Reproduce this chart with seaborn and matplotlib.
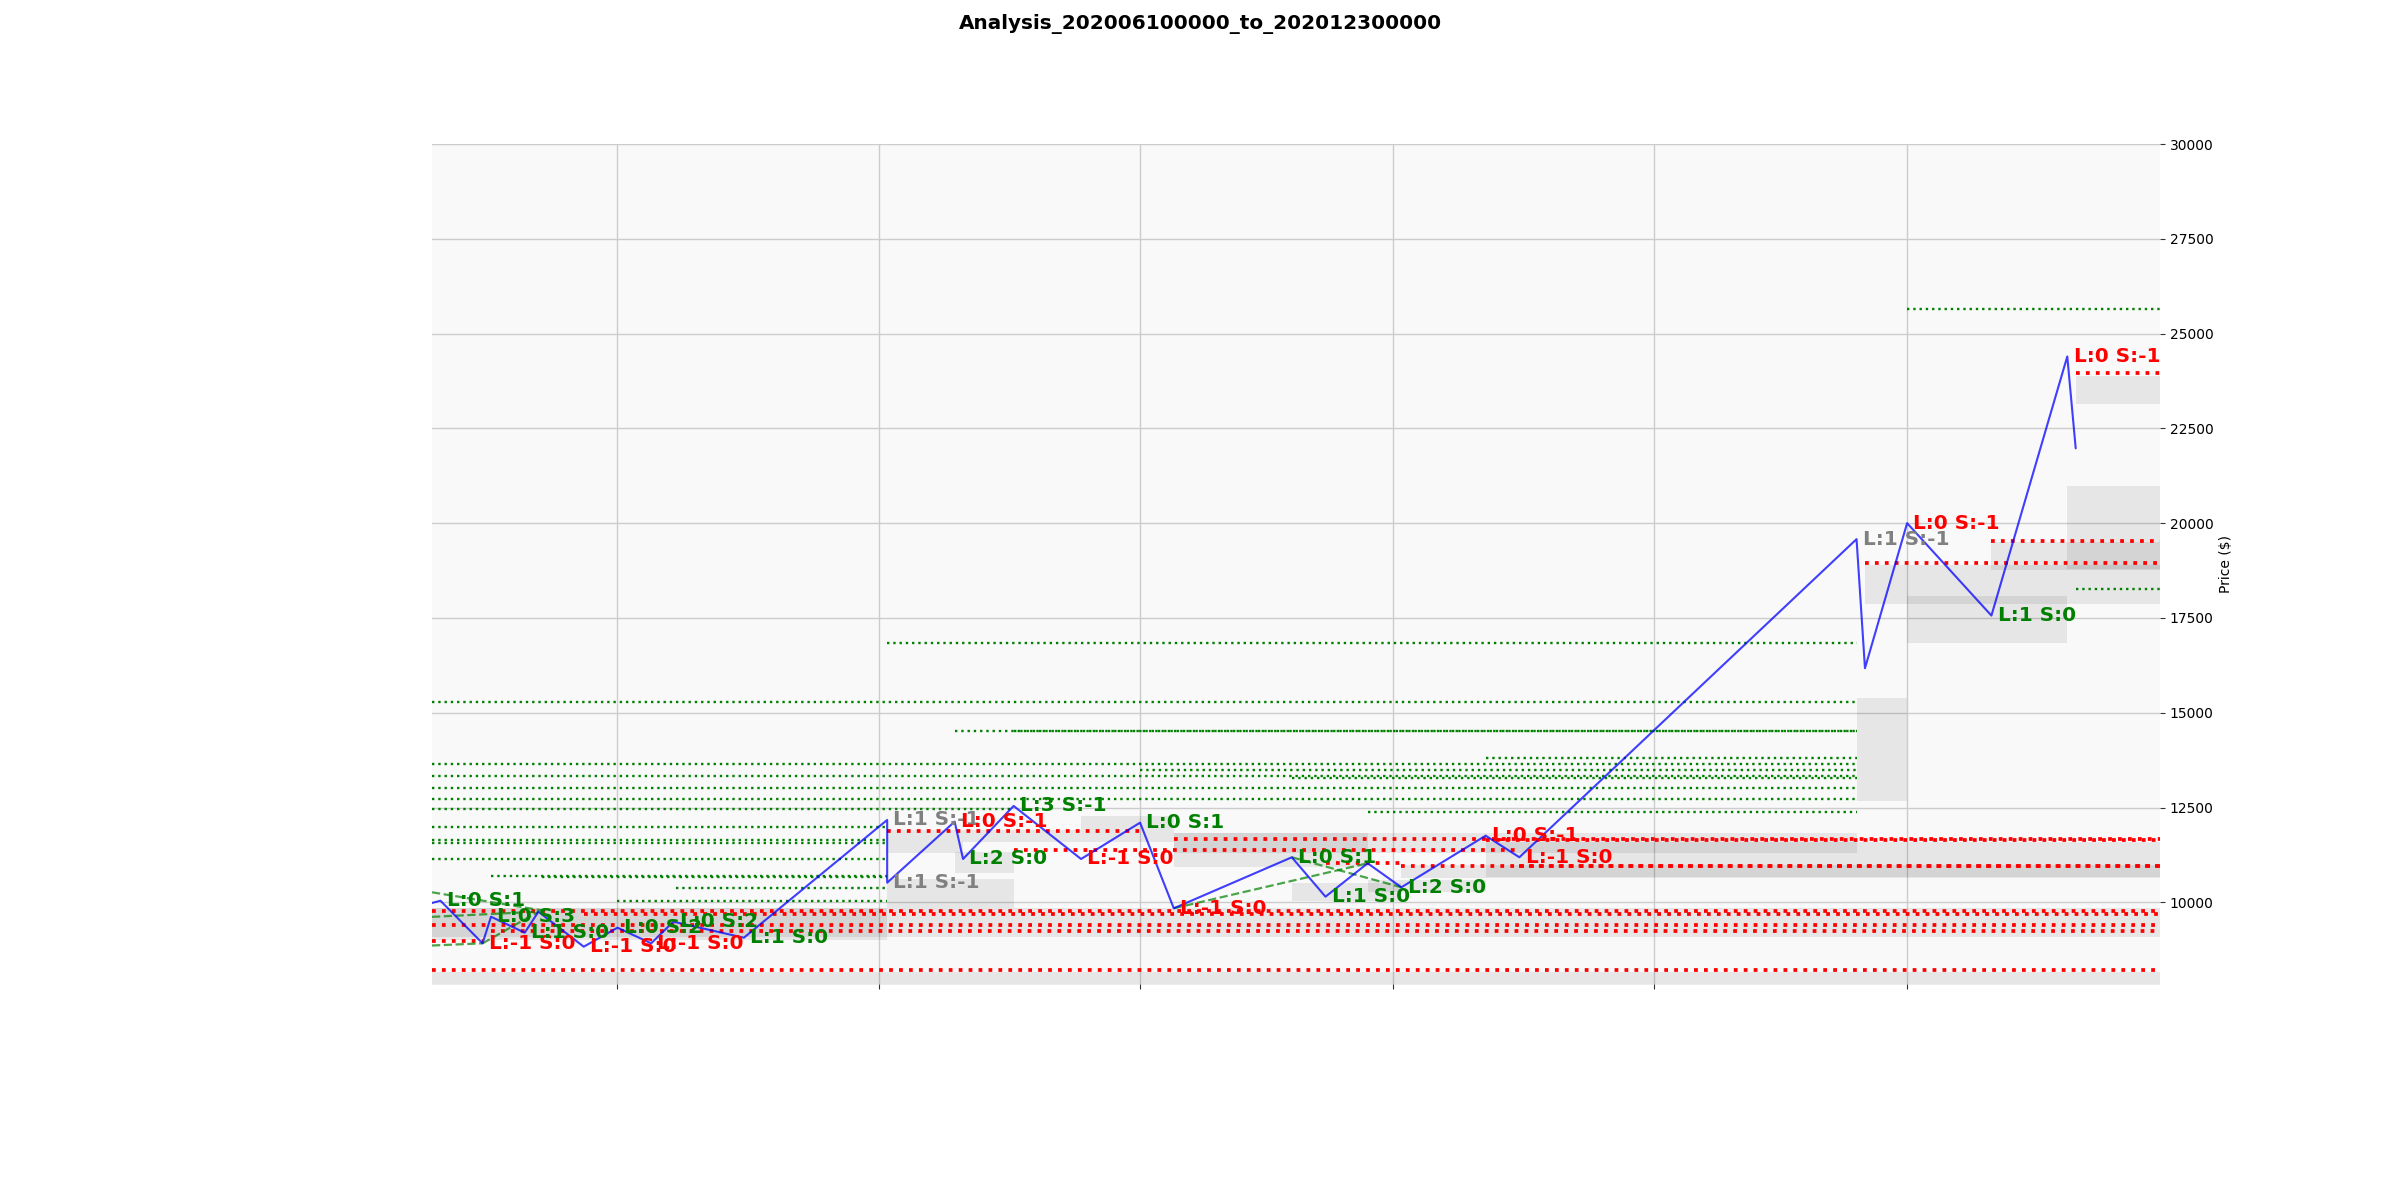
import re
import numpy as np
import pandas as pd
import matplotlib
matplotlib.use("Agg")
import matplotlib.pyplot as plt
import matplotlib.dates as mdates
import seaborn as sns

TITLE = "Analysis_202006100000_to_202012300000"
X_RANGE = ["2020-06-09", "2020-12-31"]
Y_RANGE = [7845, 30000]
Y_TICKS = [10000, 12500, 15000, 17500, 20000, 22500, 25000, 27500, 30000]

# zig-zag price path
price_dates = ["2020-06-09", "2020-06-10", "2020-06-15", "2020-06-16", "2020-06-20",
               "2020-06-21 15:00", "2020-06-27", "2020-07-01", "2020-07-05",
               "2020-07-07 15:00", "2020-07-16", "2020-08-02", "2020-08-02",
               "2020-08-10", "2020-08-11", "2020-08-17", "2020-08-25", "2020-09-01",
               "2020-09-05", "2020-09-19", "2020-09-23", "2020-09-28", "2020-10-02",
               "2020-10-12", "2020-10-16", "2020-11-25", "2020-11-26", "2020-12-01",
               "2020-12-11", "2020-12-20", "2020-12-21"]
price_values = [9982, 10042, 8918, 9620, 9198, 9752, 8829, 9330, 8918, 9488, 9066,
                12172, 10517, 12127, 11142, 12541, 11142, 12100, 9842, 11187, 10148,
                11029, 10396, 11757, 11187, 19578, 16174, 20000, 17562, 24396, 21973]

# support levels (green): start, end, price
green_start = ["2020-12-01", "2020-12-21", "2020-08-02", "2020-06-09", "2020-08-10",
               "2020-08-17", "2020-10-12", "2020-06-09", "2020-09-01", "2020-06-09",
               "2020-09-19", "2020-06-09", "2020-06-09", "2020-06-09", "2020-09-28",
               "2020-06-09", "2020-06-09", "2020-06-09", "2020-06-09", "2020-06-16",
               "2020-06-22", "2020-07-08", "2020-07-01"]
green_end = ["2020-12-31", "2020-12-31", "2020-11-25", "2020-11-25", "2020-11-25",
             "2020-11-25", "2020-11-25", "2020-11-25", "2020-11-25", "2020-11-25",
             "2020-11-25", "2020-11-25", "2020-11-25", "2020-08-17", "2020-11-25",
             "2020-08-02", "2020-08-02", "2020-08-02", "2020-08-02", "2020-08-02",
             "2020-08-02", "2020-08-02", "2020-08-02"]
green_price = [25657, 18258, 16850, 15293, 14528, 14505, 13799, 13649, 13491, 13340,
               13272, 13008, 12718, 12454, 12390, 11995, 11644, 11573, 11142, 10694,
               10680, 10369, 10042]

# resistance levels (red)
red_start = ["2020-12-21", "2020-12-11", "2020-11-26", "2020-08-02", "2020-09-05",
             "2020-10-12", "2020-08-17", "2020-09-23", "2020-10-02", "2020-10-16",
             "2020-06-09", "2020-06-27", "2020-06-09", "2020-06-16", "2020-06-09",
             "2020-06-09"]
red_end = ["2020-12-31", "2020-12-31", "2020-12-31", "2020-09-01", "2020-12-31",
           "2020-12-31", "2020-10-16", "2020-10-02", "2020-12-31", "2020-12-31",
           "2020-12-31", "2020-12-31", "2020-12-31", "2020-12-31", "2020-06-15",
           "2020-12-31"]
red_price = [23958, 19541, 18961, 11889, 11662, 11645, 11367, 11029, 10968, 10945,
             9770, 9700, 9401, 9251, 8992, 8222]

# shaded zones
zone_start = ["2020-11-25", "2020-11-26", "2020-12-01", "2020-12-11", "2020-12-20",
              "2020-12-21", "2020-08-02", "2020-08-02", "2020-08-11", "2020-08-10",
              "2020-08-25", "2020-09-05", "2020-09-05", "2020-09-19", "2020-09-28",
              "2020-10-02", "2020-10-12", "2020-06-09", "2020-06-09", "2020-06-09"]
zone_end = ["2020-12-01", "2020-12-31", "2020-12-20", "2020-12-31", "2020-12-31",
            "2020-12-31", "2020-08-17", "2020-08-11", "2020-09-05", "2020-08-17",
            "2020-09-05", "2020-09-28", "2020-11-25", "2020-10-02", "2020-10-12",
            "2020-12-31", "2020-12-31", "2020-12-31", "2020-08-02", "2020-12-31"]
zone_low = [12681, 17863, 16850, 18768, 18786, 23140, 9850, 11309, 11599, 10781,
            11908, 10939, 11309, 10042, 10280, 10641, 10661, 9087, 9005, 7600]
zone_high = [15391, 18900, 18082, 19514, 20984, 23877, 10615, 11908, 11908, 11335,
             12277, 11820, 11820, 10517, 10588, 10984, 11599, 9842, 9842, 8170]

# dashed trend lines
trend_start = ["2020-06-09", "2020-06-09", "2020-06-09", "2020-06-15",
               "2020-09-05", "2020-09-19"]
trend_start_price = [8860, 9616, 10264, 8918, 9842, 11187]
trend_end = ["2020-06-15", "2020-06-21 15:00", "2020-06-22 12:00", "2020-06-21 15:00",
             "2020-09-28", "2020-10-02"]
trend_end_price = [8918, 9752, 9770, 9752, 11029, 10396]

# pivot labels
label_dates = ["2020-06-10", "2020-06-15", "2020-06-16", "2020-06-20", "2020-06-27",
               "2020-07-01", "2020-07-05", "2020-07-07 15:00", "2020-07-16",
               "2020-08-02", "2020-08-02", "2020-08-10", "2020-08-11", "2020-08-17",
               "2020-08-25", "2020-09-01", "2020-09-05", "2020-09-19", "2020-09-23",
               "2020-10-02", "2020-10-12", "2020-10-16", "2020-11-25", "2020-12-01",
               "2020-12-11", "2020-12-20"]
label_prices = [10042, 8918, 9620, 9198, 8829, 9330, 8918, 9488, 9066, 12172, 10517,
                12127, 11142, 12541, 11142, 12100, 9842, 11187, 10148, 10396, 11757,
                11187, 19578, 20000, 17562, 24396]
label_texts = ["L:0 S:1", "L:-1 S:0", "L:0 S:3", "L:1 S:0", "L:-1 S:0", "L:0 S:2",
               "L:-1 S:0", "L:0 S:2", "L:1 S:0", "L:1 S:-1", "L:1 S:-1", "L:0 S:-1",
               "L:2 S:0", "L:3 S:-1", "L:-1 S:0", "L:0 S:1", "L:-1 S:0", "L:0 S:1",
               "L:1 S:0", "L:2 S:0", "L:0 S:-1", "L:-1 S:0", "L:1 S:-1", "L:0 S:-1",
               "L:1 S:0", "L:0 S:-1"]

sns.set_style("whitegrid")
plt.rcParams["font.family"] = ["DejaVu Sans"]

fig = plt.figure(figsize=(24, 12), dpi=100)
ax = fig.add_axes([0.18, 0.18, 0.72, 0.70])
ax.set_facecolor("#f9f9f9")


def D(x):
    return pd.to_datetime(x, format="mixed")


for s, e, lo, hi in zip(zone_start, zone_end, zone_low, zone_high):
    ax.fill_between(D([s, e]), lo, hi, color="black", alpha=0.076, lw=0, zorder=1)

ax.hlines(green_price, D(green_start), D(green_end), colors="green",
          linestyles=":", lw=1.7, zorder=2)
ax.hlines(red_price, D(red_start), D(red_end), colors="red",
          linestyles=":", lw=2.7, zorder=2)

for s, sp, e, ep in zip(trend_start, trend_start_price, trend_end, trend_end_price):
    ax.plot(D([s, e]), [sp, ep], color="green", ls="--", lw=1.6, alpha=0.7, zorder=3)

df = pd.DataFrame({"date": D(price_dates), "price": price_values})
sns.lineplot(data=df, x="date", y="price", sort=False, estimator=None,
             color="blue", alpha=0.75, lw=1.5, ax=ax, zorder=4)


def label_color(t):
    l, s = map(int, re.findall(r"-?\d+", t))
    v = l + s
    return "green" if v > 0 else ("red" if v < 0 else "gray")


for d, p, t in zip(label_dates, label_prices, label_texts):
    ax.annotate(t, xy=(D(d), p), xytext=(4.5, 0), textcoords="offset points",
                ha="left", va="center", fontsize=14.4, fontweight="bold",
                color=label_color(t), zorder=5)

ax.set_xlim(D(X_RANGE[0]), D(X_RANGE[1]))
ax.set_ylim(*Y_RANGE)
ax.set_yticks(Y_TICKS)
ax.xaxis.set_major_locator(mdates.MonthLocator())
ax.xaxis.set_major_formatter(plt.NullFormatter())
ax.yaxis.tick_right()
ax.yaxis.set_label_position("right")
ax.set_xlabel("")
ax.set_ylabel("Price ($)", fontsize=10, color="black")
ax.tick_params(axis="both", which="major", length=3.5, width=0.8, color="#333333",
               labelsize=10, labelcolor="black")
ax.tick_params(axis="x", bottom=True)
ax.tick_params(axis="y", right=True, left=False)
ax.grid(True, color="#cccccc", lw=1.0)
for sp in ax.spines.values():
    sp.set_visible(False)

fig.suptitle(TITLE, fontsize=14.4, fontweight="bold", color="black", x=0.5,
             y=1 - 29.5 / 1200, va="baseline")

fig.savefig("out.png", dpi=100)
